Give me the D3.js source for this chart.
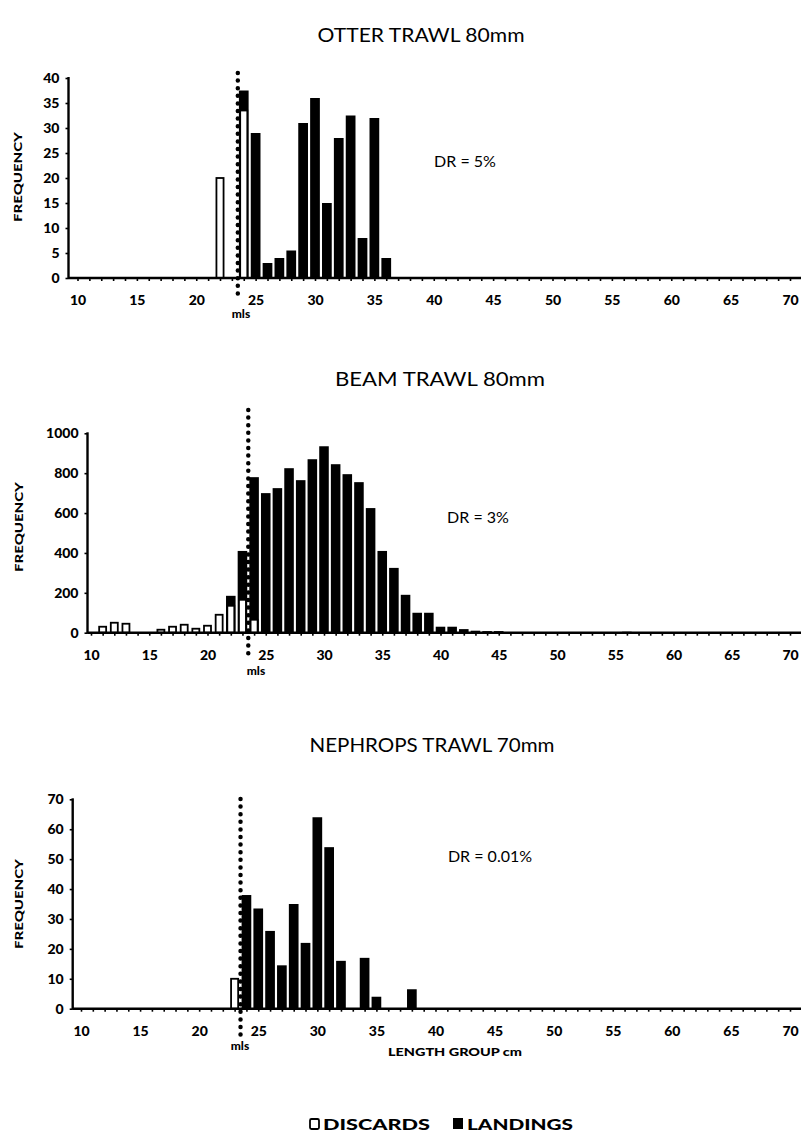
<!DOCTYPE html>
<html><head><meta charset="utf-8">
<script src="https://cdn.jsdelivr.net/npm/d3@7"></script>
<style>
body{margin:0;background:#fff;}
svg{display:block;}
text{font-family:"Lato","DejaVu Sans",sans-serif;fill:#000;}
</style></head><body>
<svg id="chart" width="805" height="1140"></svg>
<script>
// ---- data ----
const xTickLabels = [10,15,20,25,30,35,40,45,50,55,60,65,70];
const mls = 23.5;

const otterTitle = "OTTER TRAWL 80mm";
const otterDR = "DR = 5%";
const otterYTicks = [0,5,10,15,20,25,30,35,40];
const otterDiscardLen = [22,24];
const otterDiscardVal = [20,33.5];
const otterLandLen = [24,25,26,27,28,29,30,31,32,33,34,35,36];
const otterLandVal = [37.5,29,3,4,5.5,31,36,15,28,32.5,8,32,4];

const beamTitle = "BEAM TRAWL 80mm";
const beamDR = "DR = 3%";
const beamYTicks = [0,200,400,600,800,1000];
const beamDiscardLen = [11,12,13,16,17,18,19,20,21,22,23,24];
const beamDiscardVal = [30,50,45,15,30,40,20,35,90,135,165,65];
const beamLandLen = [22,23,24,25,26,27,28,29,30,31,32,33,34,35,36,37,38,39,40,41,42,43,44,45,46,47,56];
const beamLandVal = [185,410,780,700,725,825,765,870,935,845,795,755,625,410,325,190,100,100,30,30,18,10,8,8,3,3,5];

const nephTitle = "NEPHROPS TRAWL 70mm";
const nephDR = "DR = 0.01%";
const nephYTicks = [0,10,20,30,40,50,60,70];
const nephDiscardLen = [23];
const nephDiscardVal = [10];
const nephLandLen = [24,25,26,27,28,29,30,31,32,34,35,38];
const nephLandVal = [38,33.5,26,14.5,35,22,64,54,16,17,4,6.5];

const xTitle = "LENGTH GROUP cm";
const yTitle = "FREQUENCY";
const legendLabels = ["DISCARDS","LANDINGS"];

// ---- layout (positions only) ----
const panels = [
  {title:otterTitle, dr:otterDR, yTicks:otterYTicks, yMax:40,
   dL:otterDiscardLen, dV:otterDiscardVal, lL:otterLandLen, lV:otterLandVal,
   x10:77.5, x70:790, yAxisX:68.5, y0:278, yTop:78, titleX:421, titleY:42, titleW:207,
   drX:465, drY:167, fqX:22, fqY:177, mlsTop:73, mlsBot:294, mlsLX:241, mlsLY:318},
  {title:beamTitle, dr:beamDR, yTicks:beamYTicks, yMax:1000,
   dL:beamDiscardLen, dV:beamDiscardVal, lL:beamLandLen, lV:beamLandVal,
   x10:91, x70:790, yAxisX:87.5, y0:632.7, yTop:433.3, titleX:440, titleY:386, titleW:210,
   drX:478, drY:523, fqX:23, fqY:527, mlsTop:410, mlsBot:658, mlsLX:256, mlsLY:675},
  {title:nephTitle, dr:nephDR, yTicks:nephYTicks, yMax:70,
   dL:nephDiscardLen, dV:nephDiscardVal, lL:nephLandLen, lV:nephLandVal,
   x10:81, x70:790, yAxisX:72.7, y0:1008.7, yTop:799.3, titleX:432, titleY:752, titleW:245,
   drX:490, drY:862, fqX:23, fqY:904, mlsTop:799, mlsBot:1040, mlsLX:240, mlsLY:1050}
];

const svg = d3.select("#chart");
const boldFont = "Lato, 'DejaVu Sans', sans-serif";

panels.forEach((p,i)=>{
  const x = d3.scaleLinear().domain([10,70]).range([p.x10,p.x70]);
  const y = d3.scaleLinear().domain([0,p.yMax]).range([p.y0,p.yTop]);
  const band = x(11)-x(10);
  const g = svg.append("g");

  // title
  g.append("text").attr("x",p.titleX).attr("y",p.titleY).attr("text-anchor","middle")
    .style("font-size","20px").attr("textLength",p.titleW).attr("lengthAdjust","spacingAndGlyphs")
    .text(p.title);

  // landings (black)
  g.selectAll("rect.land").data(p.lL.map((l,k)=>({l,v:p.lV[k]}))).join("rect")
    .attr("x",d=>x(d.l)-band*0.41).attr("width",band*0.82)
    .attr("y",d=>y(d.v)).attr("height",d=>y(0)-y(d.v)).attr("fill","#000");
  // discards (white)
  g.selectAll("rect.disc").data(p.dL.map((l,k)=>({l,v:p.dV[k]}))).join("rect")
    .attr("x",d=>x(d.l)-band*0.3).attr("width",band*0.6)
    .attr("y",d=>y(d.v)).attr("height",d=>y(0)-y(d.v))
    .attr("fill","#fff").attr("stroke","#000").attr("stroke-width",1.8);

  // x axis
  const xAxis = d3.axisBottom(x).tickValues(d3.range(10,71)).tickSize(3).tickFormat(d=>xTickLabels.includes(d)?d:"");
  const xa = g.append("g").attr("transform",`translate(0,${p.y0})`).call(xAxis);
  xa.select(".domain").remove();
  xa.selectAll(".tick line").attr("stroke-width",1.6);
  xa.selectAll(".tick text").attr("dy","1.5em").style("font-size","14px").style("font-weight","900").style("font-family",boldFont);
  g.append("line").attr("x1",p.yAxisX).attr("x2",801).attr("y1",p.y0).attr("y2",p.y0)
    .attr("stroke","#000").attr("stroke-width",2.4);

  // y axis
  const yAxis = d3.axisLeft(y).tickValues(p.yTicks).tickSize(3).tickPadding(6).tickFormat(d3.format("d"));
  const ya = g.append("g").attr("transform",`translate(${p.yAxisX},0)`).call(yAxis);
  ya.select(".domain").remove();
  ya.selectAll(".tick line").attr("stroke-width",1.6);
  ya.selectAll(".tick text").style("font-size","14px").style("font-weight","900").style("font-family",boldFont);
  g.append("line").attr("x1",p.yAxisX).attr("x2",p.yAxisX).attr("y1",p.y0+1).attr("y2",p.yTop-1)
    .attr("stroke","#000").attr("stroke-width",2.4);

  // y title
  g.append("text").attr("transform",`translate(${p.fqX},${p.fqY}) rotate(-90)`)
    .attr("text-anchor","middle").style("font-size","12px").style("font-weight","900")
    .attr("textLength",90).attr("lengthAdjust","spacingAndGlyphs")
    .text(yTitle);

  // DR text
  g.append("text").attr("x",p.drX).attr("y",p.drY).attr("text-anchor","middle")
    .style("font-size","16px").text(p.dr);

  // mls dotted line
  g.append("line").attr("x1",x(mls)).attr("x2",x(mls)).attr("y1",p.mlsTop).attr("y2",p.mlsBot)
    .attr("stroke","#000").attr("stroke-width",4.5).attr("stroke-linecap","round")
    .attr("stroke-dasharray","0 7.6");
  g.append("text").attr("x",p.mlsLX).attr("y",p.mlsLY).attr("text-anchor","middle")
    .style("font-size","12px").style("font-weight","900").text("mls");
});

// x title
svg.append("text").attr("x",455).attr("y",1056).attr("text-anchor","middle")
  .style("font-size","12px").style("font-weight","900")
  .attr("textLength",134).attr("lengthAdjust","spacingAndGlyphs").text(xTitle);

// legend
const lg = svg.append("g");
lg.append("rect").attr("x",310).attr("y",1119).attr("width",9).attr("height",10)
  .attr("fill","#fff").attr("stroke","#000").attr("stroke-width",1.8).attr("rx",1.5);
lg.append("text").attr("x",323).attr("y",1130).style("font-size","15px").style("font-weight","900")
  .attr("textLength",107).attr("lengthAdjust","spacingAndGlyphs").text(legendLabels[0]);
lg.append("rect").attr("x",453).attr("y",1118).attr("width",10).attr("height",11).attr("fill","#000");
lg.append("text").attr("x",467).attr("y",1130).style("font-size","15px").style("font-weight","900")
  .attr("textLength",106).attr("lengthAdjust","spacingAndGlyphs").text(legendLabels[1]);
</script>
</body></html>
